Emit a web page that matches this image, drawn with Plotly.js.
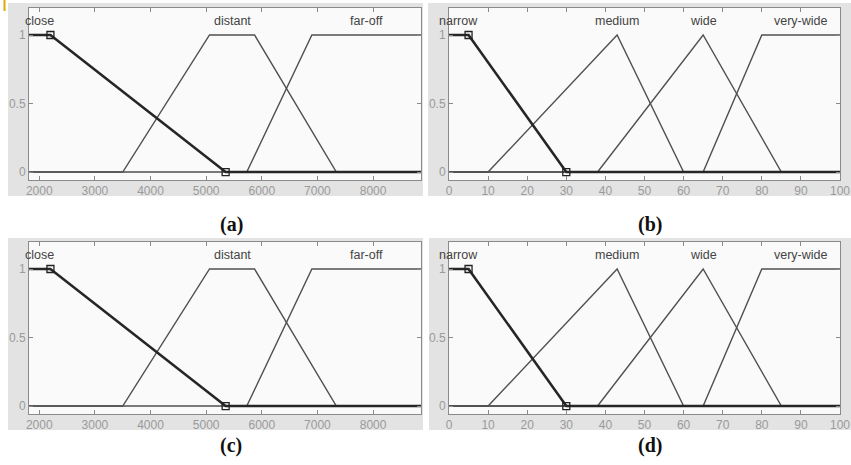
<!DOCTYPE html>
<html>
<head>
<meta charset="utf-8">
<script src="https://cdn.plot.ly/plotly-3.0.1.min.js"></script>
<style>html,body{margin:0;padding:0;background:#fff;}#chart{width:851px;height:465px;}</style>
</head>
<body>
<div id="chart"></div>
<script>
// ---- data: distance membership functions (panels a, c)
const distRange = [1815, 8862];
const closeX = [1815, 2200, 5350, 8862];
const closeY = [1, 1, 0, 0];
const distantX = [1815, 3500, 5060, 5870, 7340, 8862];
const distantY = [0, 0, 1, 1, 0, 0];
const farOffX = [1815, 5730, 6900, 8862];
const farOffY = [0, 0, 1, 1];
const distTicks = [2000, 3000, 4000, 5000, 6000, 7000, 8000];
const distNames = ["close", "distant", "far-off"];

// ---- data: width membership functions (panels b, d)
const widthRange = [0, 100];
const narrowX = [0, 5, 30, 100];
const narrowY = [1, 1, 0, 0];
const mediumX = [0, 10, 43, 60, 100];
const mediumY = [0, 0, 1, 0, 0];
const wideX = [0, 38, 65, 85, 100];
const wideY = [0, 0, 1, 0, 0];
const veryWideX = [0, 65, 80, 100];
const veryWideY = [0, 0, 1, 1];
const widthTicks = [0, 10, 20, 30, 40, 50, 60, 70, 80, 90, 100];
const widthNames = ["narrow", "medium", "wide", "very-wide"];

const yTicks = [0, 0.5, 1];
const yTickText = ["0", "0.5", "1"];
const captions = ["(a)", "(b)", "(c)", "(d)"];

// ---- styling
const W = 851, H = 465;
const px = v => v / W, py = v => 1 - v / H;
const thin = {color: '#505050', width: 1.4};
const thick = {color: '#262626', width: 2.6};

const distSets = [[closeX, closeY], [distantX, distantY], [farOffX, farOffY]];
const widthSets = [[narrowX, narrowY], [mediumX, mediumY], [wideX, wideY], [veryWideX, veryWideY]];

function plateauCenter(xs, ys) {
  const p = xs.filter((x, i) => ys[i] === 1);
  return (Math.min(...p) + Math.max(...p)) / 2;
}

const traces = [];
const annotations = [];
const panels = [
  {sets: distSets, names: distNames, ax: ''},
  {sets: widthSets, names: widthNames, ax: '2'},
  {sets: distSets, names: distNames, ax: '3'},
  {sets: widthSets, names: widthNames, ax: '4'}
];
panels.forEach(p => {
  const xa = 'x' + p.ax, ya = 'y' + p.ax;
  p.sets.forEach((s, i) => {
    if (i === 0) return;
    traces.push({x: s[0], y: s[1], xaxis: xa, yaxis: ya, mode: 'lines', line: thin, hoverinfo: 'skip'});
  });
  const s0 = p.sets[0];
  traces.push({x: s0[0], y: s0[1], xaxis: xa, yaxis: ya, mode: 'lines', line: thick, hoverinfo: 'skip'});
  traces.push({x: s0[0].slice(1, 3), y: s0[1].slice(1, 3), xaxis: xa, yaxis: ya, mode: 'markers',
    marker: {symbol: 'square-open', size: 7, color: '#222', line: {width: 1.3, color: '#222'}}, hoverinfo: 'skip'});
  p.sets.forEach((s, i) => {
    annotations.push({xref: xa, yref: ya, x: plateauCenter(s[0], s[1]), y: 1.1, text: p.names[i],
      showarrow: false, font: {family: 'Liberation Sans, Arial', size: 12.5, color: '#444'}, xanchor: 'center', yanchor: 'middle'});
  });
});

const capPos = [[231, 224], [650, 224], [231, 445], [650, 445]];
captions.forEach((c, i) => {
  annotations.push({xref: 'paper', yref: 'paper', x: px(capPos[i][0]), y: py(capPos[i][1]), text: '<b>' + c + '</b>',
    showarrow: false, xanchor: 'center', yanchor: 'middle', font: {family: 'Liberation Serif, Times New Roman', size: 20, color: '#111'}});
});

function xaxisDef(domain, range, ticks, anchor) {
  return {domain: domain, range: range, tickvals: ticks, ticktext: ticks.map(String), anchor: anchor,
    showgrid: false, zeroline: false, showline: true, mirror: 'ticks', linecolor: '#8a8a8a', linewidth: 1,
    ticks: 'inside', ticklen: 4, tickcolor: '#8a8a8a', tickfont: {family: 'Liberation Sans, Arial', size: 12, color: '#9a9a9a'},
    fixedrange: true};
}
function yaxisDef(domain, anchor) {
  return {domain: domain, range: [-0.058, 1.197], tickvals: yTicks, ticktext: yTickText, anchor: anchor,
    showgrid: false, zeroline: false, showline: true, mirror: 'ticks', linecolor: '#8a8a8a', linewidth: 1,
    ticks: 'inside', ticklen: 4, tickcolor: '#8a8a8a', tickfont: {family: 'Liberation Sans, Arial', size: 12, color: '#9a9a9a'},
    fixedrange: true};
}

const xL = [px(29), px(421)], xR = [px(449), px(840)];
const yT = [py(180), py(8)], yB = [py(414), py(242)];

const gray = '#e3e3e3';
const inner = '#fafafa';
function rect(x0, x1, y0, y1, c) {
  return {type: 'rect', xref: 'paper', yref: 'paper', x0: x0, x1: x1, y0: y0, y1: y1, fillcolor: c, line: {width: 0}, layer: 'below'};
}
const shapes = [
  rect(px(8), px(423), py(196), py(3), gray),
  rect(px(428), px(851), py(196), py(3), gray),
  rect(px(8), px(423), py(430), py(238), gray),
  rect(px(429), px(851), py(430), py(238), gray),
  rect(xL[0], xL[1], yT[0], yT[1], inner),
  rect(xR[0], xR[1], yT[0], yT[1], inner),
  rect(xL[0], xL[1], yB[0], yB[1], inner),
  rect(xR[0], xR[1], yB[0], yB[1], inner),
  {type: 'rect', xref: 'paper', yref: 'paper', x0: px(3.5), x1: px(5.5), y0: py(11), y1: py(0), fillcolor: '#e0a800', line: {width: 0}, layer: 'above'}
];

const layout = {
  width: W, height: H, margin: {l: 0, r: 0, t: 0, b: 0},
  paper_bgcolor: '#ffffff', plot_bgcolor: inner, showlegend: false,
  xaxis: xaxisDef(xL, distRange, distTicks, 'y'),
  yaxis: yaxisDef(yT, 'x'),
  xaxis2: xaxisDef(xR, widthRange, widthTicks, 'y2'),
  yaxis2: yaxisDef(yT, 'x2'),
  xaxis3: xaxisDef(xL, distRange, distTicks, 'y3'),
  yaxis3: yaxisDef(yB, 'x3'),
  xaxis4: xaxisDef(xR, widthRange, widthTicks, 'y4'),
  yaxis4: yaxisDef(yB, 'x4'),
  shapes: shapes, annotations: annotations
};

Plotly.newPlot('chart', traces, layout, {displayModeBar: false, staticPlot: true});
</script>
</body>
</html>
